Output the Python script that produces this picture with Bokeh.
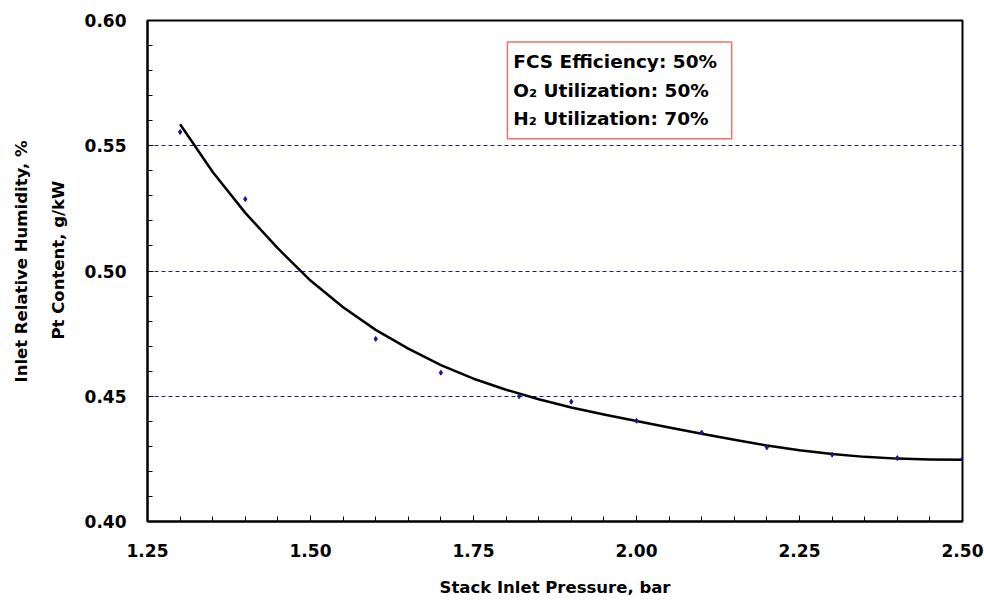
import numpy as np
from bokeh.plotting import figure
from bokeh.models import Range1d, FixedTicker, Label, Title, NumeralTickFormatter
from bokeh.embed import file_html
from bokeh.resources import INLINE

# ---- data ----
curve_x = [1.30, 1.35, 1.40, 1.45, 1.50, 1.55, 1.60, 1.65, 1.70, 1.75, 1.80, 1.85,
           1.90, 1.95, 2.00, 2.05, 2.10, 2.15, 2.20, 2.25, 2.30, 2.35, 2.40, 2.45, 2.50]
curve_y = [0.5586, 0.5395, 0.5232, 0.5090, 0.4962, 0.4855, 0.4765, 0.4690, 0.4624, 0.4570,
           0.4526, 0.4488, 0.4455, 0.4427, 0.4401, 0.4375, 0.4350, 0.4326, 0.4303, 0.4284,
           0.4269, 0.4258, 0.4251, 0.4248, 0.4247]
pts_x = [1.30, 1.40, 1.60, 1.70, 1.82, 1.90, 2.00, 2.10, 2.20, 2.30, 2.40, 2.50]
pts_y = [0.5555, 0.5287, 0.4729, 0.4594, 0.4500, 0.4478, 0.4402, 0.4355, 0.4296, 0.4267, 0.4253, 0.4250]
x_ticks = [1.25, 1.50, 1.75, 2.00, 2.25, 2.50]
y_ticks = [0.40, 0.45, 0.50, 0.55, 0.60]
grid_y = [0.45, 0.50, 0.55]
note_lines = ["FCS Efficiency: 50%", "O\u2082 Utilization: 50%", "H\u2082 Utilization: 70%"]
x_title = "Stack Inlet Pressure, bar"
y_title1 = "Inlet Relative Humidity, %"
y_title2 = "Pt Content, g/kW"

FONT = "DejaVu Sans"

p = figure(width=984, height=600, output_backend="svg", toolbar_location=None,
           x_range=Range1d(1.25, 2.50), y_range=Range1d(0.40, 0.60),
           min_border_left=147, min_border_right=22, min_border_top=20, min_border_bottom=79)
p.background_fill_color = "white"
p.border_fill_color = "white"
p.outline_line_color = "black"
p.outline_line_width = 2

# axes
p.xaxis.ticker = FixedTicker(ticks=x_ticks, minor_ticks=list(np.round(np.arange(1.25, 2.5001, 0.05), 2)))
p.yaxis.ticker = FixedTicker(ticks=y_ticks, minor_ticks=list(np.round(np.arange(0.40, 0.6001, 0.01), 2)))
p.xaxis.formatter = NumeralTickFormatter(format="0.00")
p.yaxis.formatter = NumeralTickFormatter(format="0.00")
for ax in (p.xaxis, p.yaxis):
    ax.axis_line_color = "black"
    ax.axis_line_width = 2
    ax.major_tick_in = 6
    ax.major_tick_out = 0
    ax.minor_tick_in = 5
    ax.minor_tick_out = 0
    ax.major_tick_line_color = "black"
    ax.minor_tick_line_color = "black"
    ax.major_label_text_font = FONT
    ax.major_label_text_font_size = "17px"
    ax.major_label_text_font_style = "bold"
    ax.major_label_text_color = "black"
p.yaxis.major_label_standoff = 21
p.xaxis.major_label_standoff = 22
p.xaxis.axis_label = x_title
p.xaxis.axis_label_text_font = FONT
p.xaxis.axis_label_text_font_size = "16.5px"
p.xaxis.axis_label_text_font_style = "bold"
p.xaxis.axis_label_text_color = "black"
p.xaxis.axis_label_standoff = 18

# grid
p.xgrid.visible = False
p.ygrid.ticker = FixedTicker(ticks=grid_y)
p.ygrid.grid_line_color = "#1a1a8c"
p.ygrid.grid_line_dash = "4 3"
p.ygrid.grid_line_width = 1

# data
p.line(curve_x, curve_y, line_color="black", line_width=2.5, line_join="round")
p.scatter(pts_x, pts_y, marker="diamond", size=5, fill_color="#1a1a8c", line_color="#1a1a8c")

# note box
p.quad(left=[1.802], right=[2.146], bottom=[0.5528], top=[0.5914],
       fill_color="white", line_color="#f07070", line_width=1.5)
for i, t in enumerate(note_lines):
    p.add_layout(Label(x=1.811, y=0.5835 - i * 0.0114, text=t, text_font=FONT,
                       text_font_size="18.5px", text_font_style="bold",
                       text_baseline="middle", text_align="left", text_color="black"))

# y titles (stacked outward from the y axis)
p.add_layout(Title(text=y_title2, align="left", offset=182, standoff=28,
                   text_font=FONT, text_font_size="16.5px", text_font_style="bold",
                   text_color="black"), "left")
p.add_layout(Title(text=y_title1, align="left", offset=139, standoff=4,
                   text_font=FONT, text_font_size="16.5px", text_font_style="bold",
                   text_color="black"), "left")

open("out.html", "w").write(file_html(p, INLINE))
